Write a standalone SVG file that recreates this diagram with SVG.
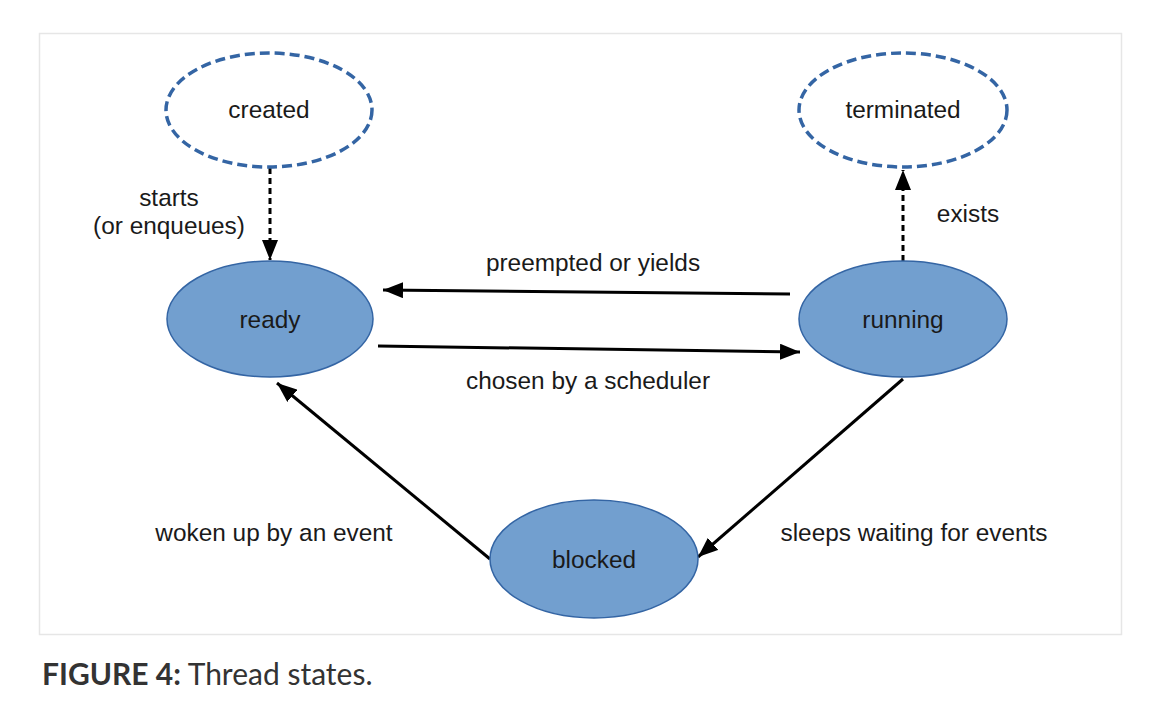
<svg xmlns="http://www.w3.org/2000/svg" width="1162" height="709" viewBox="0 0 1162 709">
<style>
.lbl{font-family:"Liberation Sans",Arial,sans-serif;font-size:24.4px;fill:#1a1a1a;text-anchor:middle}
.st{fill:#729fcf;stroke:#3465a4;stroke-width:1.5}
.vt{fill:none;stroke:#3465a4;stroke-width:3.5;stroke-dasharray:10,5}
.ln{stroke:#000;stroke-width:3;fill:none}
.dl{stroke:#000;stroke-width:3;fill:none;stroke-dasharray:6,4}
</style>
<defs>
<marker id="a" viewBox="0 0 20 16" refX="20" refY="8" markerWidth="20" markerHeight="16" markerUnits="userSpaceOnUse" orient="auto">
<path d="M0,0 L20,8 L0,16 z" fill="#000"/>
</marker>
</defs>
<rect x="0" y="0" width="1162" height="709" fill="#fff"/>
<rect x="39.5" y="33.5" width="1082" height="601" fill="#fff" stroke="#e6e6e6" stroke-width="1.5"/>
<g id="connectors">
<line class="dl" x1="270" y1="168" x2="270" y2="260" marker-end="url(#a)"/>
<line class="dl" x1="903" y1="261" x2="903" y2="170" marker-end="url(#a)"/>
<line class="ln" x1="790" y1="294" x2="383" y2="290" marker-end="url(#a)"/>
<line class="ln" x1="378" y1="346" x2="800" y2="352" marker-end="url(#a)"/>
<line class="ln" x1="903" y1="379" x2="698" y2="557" marker-end="url(#a)"/>
<line class="ln" x1="490" y1="559" x2="277" y2="383" marker-end="url(#a)"/>
<text class="lbl" x="169" y="206">starts</text>
<text class="lbl" x="169" y="234">(or enqueues)</text>
<text class="lbl" x="968" y="222">exists</text>
<text class="lbl" x="593" y="271">preempted or yields</text>
<text class="lbl" x="588" y="389">chosen by a scheduler</text>
<text class="lbl" x="274" y="541">woken up by an event</text>
<text class="lbl" x="914" y="541">sleeps waiting for events</text>
</g>
<g id="created">
<ellipse class="vt" cx="269" cy="110" rx="103" ry="57"/>
<text class="lbl" x="269" y="118">created</text>
</g>
<g id="terminated">
<ellipse class="vt" cx="903" cy="110" rx="104" ry="57"/>
<text class="lbl" x="903" y="118">terminated</text>
</g>
<g id="ready">
<ellipse class="st" cx="270" cy="319" rx="103" ry="58"/>
<text class="lbl" x="270" y="328">ready</text>
</g>
<g id="running">
<ellipse class="st" cx="903" cy="319" rx="104" ry="58"/>
<text class="lbl" x="903" y="328">running</text>
</g>
<g id="blocked">
<ellipse class="st" cx="594" cy="559" rx="104" ry="59"/>
<text class="lbl" x="594" y="568">blocked</text>
</g>
<text x="42" y="685" font-family="Lato,'Open Sans',sans-serif" font-size="30" fill="#333"><tspan font-weight="bold">FIGURE 4:</tspan> Thread states.</text>
</svg>
